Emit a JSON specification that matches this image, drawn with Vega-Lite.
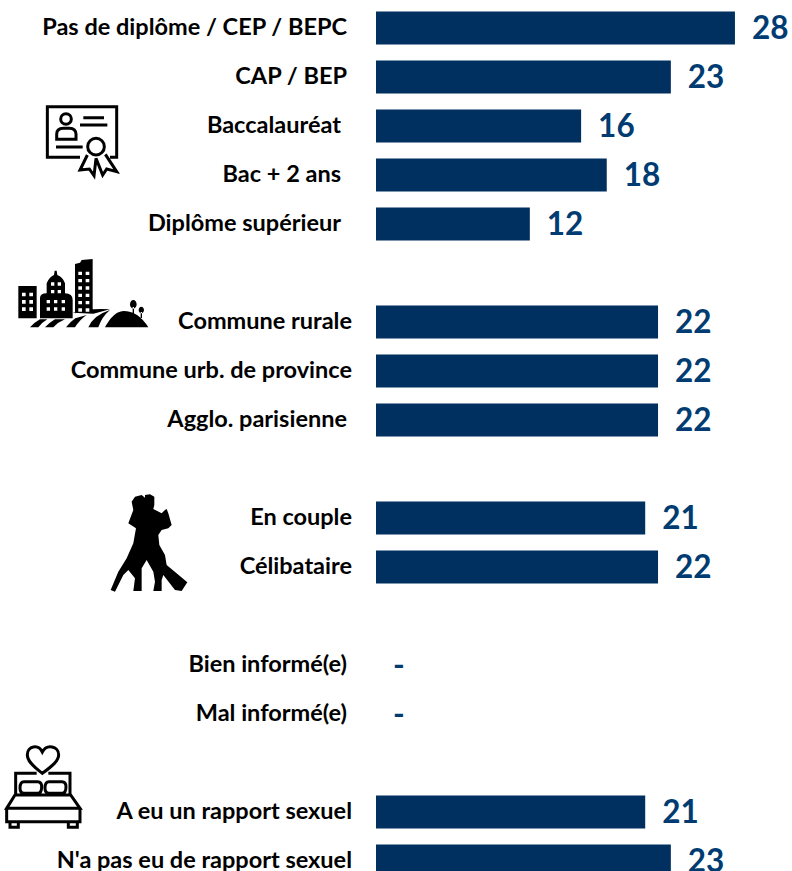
{"$schema":"https://vega.github.io/schema/vega-lite/v6.json","autosize":"none","padding":{"left":376,"top":3.5,"right":0,"bottom":0},"width":416,"height":867.5,"background":"white","config":{"view":{"stroke":null}},"data":{"values":[{"groupe":"Pas de diplôme / CEP / BEPC","valeur":28,"etiquette":"28"},{"groupe":"CAP / BEP","valeur":23,"etiquette":"23"},{"groupe":"Baccalauréat","valeur":16,"etiquette":"16"},{"groupe":"Bac + 2 ans","valeur":18,"etiquette":"18"},{"groupe":"Diplôme supérieur","valeur":12,"etiquette":"12"},{"groupe":"Commune rurale","valeur":22,"etiquette":"22"},{"groupe":"Commune urb. de province","valeur":22,"etiquette":"22"},{"groupe":"Agglo. parisienne","valeur":22,"etiquette":"22"},{"groupe":"En couple","valeur":21,"etiquette":"21"},{"groupe":"Célibataire","valeur":22,"etiquette":"22"},{"groupe":"Bien informé(e)","valeur":0,"etiquette":"-"},{"groupe":"Mal informé(e)","valeur":0,"etiquette":"-"},{"groupe":"A eu un rapport sexuel","valeur":21,"etiquette":"21"},{"groupe":"N'a pas eu de rapport sexuel","valeur":23,"etiquette":"23"}]},"encoding":{"y":{"field":"groupe","type":"nominal","title":null,"sort":null,"axis":null,"scale":{"domain":["Pas de diplôme / CEP / BEPC","CAP / BEP","Baccalauréat","Bac + 2 ans","Diplôme supérieur","g1","Commune rurale","Commune urb. de province","Agglo. parisienne","g2","En couple","Célibataire","g3","Bien informé(e)","Mal informé(e)","g4","A eu un rapport sexuel","N'a pas eu de rapport sexuel"],"range":[0,882],"paddingInner":0.3265,"paddingOuter":0.16325}},"x":{"field":"valeur","type":"quantitative","title":null,"axis":null,"scale":{"domain":[0,32.45],"range":[0,416],"nice":false,"zero":false,"clamp":false}}},"layer":[{"mark":{"type":"bar","color":"#00305f","stroke":null},"encoding":{}},{"mark":{"type":"text","align":"left","baseline":"middle","dx":17,"dy":2,"font":"Lato","fontWeight":"bold","fontSize":31.5,"color":"#003c71"},"encoding":{"text":{"field":"etiquette","type":"nominal"}}},{"transform":[{"filter":{"field":"groupe","oneOf":["Commune rurale","Commune urb. de province","En couple","Célibataire","A eu un rapport sexuel","N'a pas eu de rapport sexuel"]}}],"mark":{"type":"text","align":"right","baseline":"middle","dx":-24,"dy":0,"font":"Lato","fontWeight":"bold","fontSize":23.5,"color":"#000000"},"encoding":{"x":{"datum":0,"type":"quantitative"},"text":{"field":"groupe","type":"nominal"}}},{"transform":[{"filter":{"field":"groupe","oneOf":["Pas de diplôme / CEP / BEPC","CAP / BEP","Agglo. parisienne","Bien informé(e)","Mal informé(e)"]}}],"mark":{"type":"text","align":"right","baseline":"middle","dx":-29,"dy":0,"font":"Lato","fontWeight":"bold","fontSize":23.5,"color":"#000000"},"encoding":{"x":{"datum":0,"type":"quantitative"},"text":{"field":"groupe","type":"nominal"}}},{"transform":[{"filter":{"field":"groupe","oneOf":["Baccalauréat","Bac + 2 ans","Diplôme supérieur"]}}],"mark":{"type":"text","align":"right","baseline":"middle","dx":-35,"dy":0,"font":"Lato","fontWeight":"bold","fontSize":23.5,"color":"#000000"},"encoding":{"x":{"datum":0,"type":"quantitative"},"text":{"field":"groupe","type":"nominal"}}},{"data":{"values":[{"groupe":"Baccalauréat","valeur":-23.4}]},"mark":{"type":"point","filled":false,"opacity":1,"size":0.4444,"stroke":"#000000","strokeWidth":3,"fill":"transparent","shape":"M12,94 L-86,94 L-86,-58 L122,-58 L122,94 L102,94 M-46,-21 a16,16 0 1,0 32,0 a16,16 0 1,0 -32,0 M-58,40 L-58,25 Q-58,7 -38,7 L-20,7 Q0,7 0,25 L0,40 Z M22,-25 L84,-25 M12,-3 L94,-3 M-60,63 L20,63 M35,62 a25,25 0 1,0 50,0 a25,25 0 1,0 -50,0 M34,87 L12,132 L40,129 L54,149 L60,97 L80,147 L92,129 L122,137 L88,85"},"encoding":{}},{"data":{"values":[{"groupe":"Commune rurale","valeur":-28.55}]},"mark":{"type":"point","filled":true,"opacity":1,"size":0.4444,"fill":"#000000","stroke":null,"shape":"M25,-108 L80,-108 L80,-11 L25,-11 Z M90,-11 L90,-71 Q90,-86 110,-86 L110,-116 Q118,-136 132,-141 L134,-154 L140,-154 L142,-141 Q158,-136 165,-116 L165,-86 Q188,-86 188,-66 L188,-11 Z M195,-26 L195,-174 L210,-178 L215,-186 L248,-189 L248,-36 Z M60,16 L85,16 Q98,0 112,-8 L90,-8 Q72,2 60,16 Z M105,16 L130,16 Q145,0 165,-8 L135,-8 Q118,2 105,16 Z M168,16 L195,16 Q210,-8 230,-21 L196,-11 Q180,0 168,16 Z M235,16 L265,16 Q275,-15 300,-36 Q250,-20 235,16 Z M188,-28 Q240,-42 300,-38 L250,-25 Z M285,16 Q310,-31 340,-33 Q385,-33 415,16 Z M360,-53 a10,13 0 1,0 20,0 a10,13 0 1,0 -20,0 M368,-45 L372,-45 L372,-25 L368,-25 Z M386,-36 a8,10 0 1,0 16,0 a8,10 0 1,0 -16,0 M392,-30 L396,-30 L396,-12 L392,-12 Z"},"encoding":{}},{"data":{"values":[{"groupe":"Commune rurale","valeur":-28.55}]},"mark":{"type":"point","filled":true,"opacity":1,"size":0.4444,"fill":"#ffffff","stroke":null,"shape":"M36,-88h11v11h-11z M58,-88h11v11h-11z M36,-66h11v11h-11z M58,-66h11v11h-11z M36,-44h11v11h-11z M58,-44h11v11h-11z M123,-119h10v10h-10z M143,-119h10v10h-10z M123,-96h10v10h-10z M143,-96h10v10h-10z M110,-66h10v10h-10z M132,-66h10v10h-10z M155,-66h10v10h-10z M110,-44h10v10h-10z M132,-44h10v10h-10z M155,-44h10v10h-10z M205,-151h11v10h-11z M227,-151h11v10h-11z M205,-129h11v10h-11z M227,-129h11v10h-11z M205,-107h11v10h-11z M227,-107h11v10h-11z M205,-85h11v10h-11z M227,-85h11v10h-11z M205,-63h11v10h-11z M227,-63h11v10h-11z M205,-41h11v10h-11z M227,-41h11v10h-11z"},"encoding":{}},{"data":{"values":[{"groupe":"En couple","valeur":-21.53}]},"mark":{"type":"point","filled":true,"opacity":1,"size":0.4444,"fill":"#000000","stroke":null,"shape":"M95,-49 L105,-64 L125,-69 L135,-61 L135,-69 L150,-71 L163,-64 L163,-39 L160,-27 L185,-14 L195,-24 L200,-27 L205,-14 L215,21 L205,31 L185,36 L175,51 L178,81 L195,111 L200,141 L262,193 L245,219 L225,216 L190,171 L185,186 L185,219 L160,219 L165,191 L160,161 L140,126 L125,151 L125,219 L100,219 L105,181 L85,156 L70,171 L45,221 L32,216 L55,161 L80,121 L100,76 L108,31 L85,16 L100,-24 Z"},"encoding":{}},{"data":{"values":[{"groupe":"A eu un rapport sexuel","valeur":-29.33}]},"mark":{"type":"point","filled":false,"opacity":1,"size":0.4444,"stroke":"#000000","strokeWidth":3,"fill":"transparent","shape":"M127,-116 C95,-140 82,-155 82,-172 C82,-198 115,-205 127,-180 C140,-205 176,-198 176,-172 C176,-155 160,-140 127,-116 Z M47,-51 L47,-116 L110,-116 M145,-116 L210,-116 L210,-51 M72,-91 L113,-91 Q125,-91 125,-76 Q125,-56 113,-56 L72,-56 Q60,-56 60,-72 Q60,-91 72,-91 Z M147,-91 L186,-91 Q198,-91 198,-76 Q198,-56 186,-56 L147,-56 Q135,-56 135,-72 Q135,-91 147,-91 Z M45,-51 L212,-51 L240,-11 L20,-11 Z M20,-11 L20,29 L240,29 L240,-11 M30,29 L30,46 L55,46 L55,29 M205,29 L205,46 L232,46 L232,29"},"encoding":{}}]}
